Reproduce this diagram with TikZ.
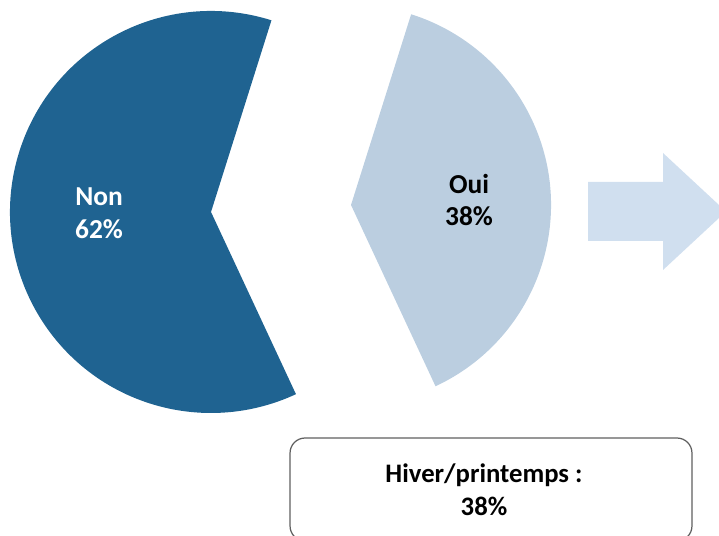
\documentclass[tikz,border=0pt]{standalone}
\usepackage{fontspec}
\setmainfont{Carlito}
\usetikzlibrary{calc}
\definecolor{nonblue}{RGB}{31,99,145}
\definecolor{ouiblue}{RGB}{187,206,224}
\definecolor{arrowblue}{RGB}{208,223,239}
\definecolor{boxgray}{RGB}{95,95,95}
\def\pieslice[#1](#2)(#3:#4:#5){\fill[#1] (#2) -- ($(#2)+(#3:#5)$) arc (#3:#4:#5) -- cycle;}
\tikzset{
  pielabel/.style={align=center, font=\fontsize{15.6}{18.7}\selectfont\bfseries},
  infobox/.style={draw=boxgray, line width=0.7pt, rounded corners=0.3cm, minimum width=8.04cm, minimum height=2.06cm},
  boxtext/.style={align=center, font=\fontsize{15.2}{18.7}\selectfont\bfseries}
}
\begin{document}
\begin{tikzpicture}[x=0.02cm, y=0.02cm]
			%%%%% START %%%%%
			\useasboundingbox (0,0) rectangle (719,-536);
			
			% slices
			\pieslice[nonblue](211,-212)(72.5:295:201)
			\pieslice[ouiblue](351,-205)(-65:72.5:200)
			
			\node[pielabel, text=white] (non) at (99,-213) {Non\\62\%};
			\node[pielabel, text=black] (oui) at (469,-200) {Oui\\38\%};
			
			% arrow
			\fill[arrowblue] (588,-182) -- (663,-182) -- (663,-153) -- (726,-211.5) -- (663,-270) -- (663,-241) -- (588,-241) -- cycle;
			
			\node[infobox] (saison) at (491,-489.5) {};
			\node[boxtext] (saisontxt) at (484,-489.5) {Hiver/printemps :\\38\%};
			%%%%% END %%%%%
		\end{tikzpicture}
\end{document}
